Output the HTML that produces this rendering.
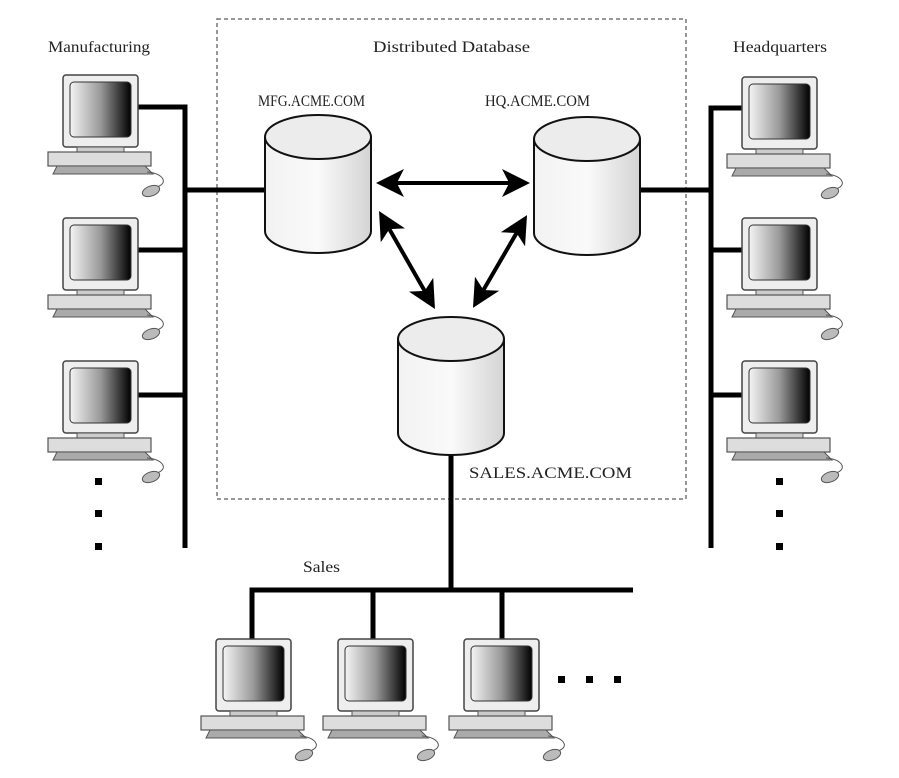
<!DOCTYPE html>
<html><head><style>
html,body{margin:0;padding:0;background:#fff;}
svg{display:block;}
</style></head><body>
<svg width="899" height="778" viewBox="0 0 899 778" xmlns="http://www.w3.org/2000/svg">
<defs>
<linearGradient id="scr" x1="0" x2="1" y1="0" y2="0">
<stop offset="0" stop-color="#f4f4f4"/><stop offset="0.5" stop-color="#999"/><stop offset="1" stop-color="#000"/>
</linearGradient>
<linearGradient id="cyl" x1="0" x2="1" y1="0" y2="0">
<stop offset="0" stop-color="#f2f2f2"/><stop offset="0.5" stop-color="#fafafa"/><stop offset="1" stop-color="#d4d4d4"/>
</linearGradient>
<marker id="ah" markerWidth="7" markerHeight="7" refX="5" refY="3.5" orient="auto-start-reverse" markerUnits="strokeWidth">
<path d="M0,0 L7,3.5 L0,7 L1.8,3.5 z" fill="#000"/>
</marker>
<g id="pc">
<rect x="0" y="0" width="75" height="72" rx="3" fill="#eee" stroke="#444" stroke-width="1.5"/>
<rect x="7" y="7" width="61" height="55" rx="4" fill="url(#scr)" stroke="#333" stroke-width="1"/>
<rect x="14" y="72" width="47" height="5" fill="#ccc" stroke="#555" stroke-width="1"/>
<rect x="-15" y="77" width="103" height="14" fill="#ddd" stroke="#555" stroke-width="1.2"/>
<path d="M-6,91 L82,91 L90,99 L-10,99 z" fill="#aaa" stroke="#555" stroke-width="1"/>
<path d="M84,97 C100,98 106,108 94,112" fill="none" stroke="#555" stroke-width="1"/>
<ellipse cx="88" cy="116" rx="9" ry="5" transform="rotate(-20 88 116)" fill="#bbb" stroke="#555" stroke-width="1"/>
</g>
<g id="db">
<path d="M0,22 L0,116 A53,22 0 0 0 106,116 L106,22" fill="url(#cyl)" stroke="#111" stroke-width="2"/>
<ellipse cx="53" cy="22" rx="53" ry="22" fill="#ececec" stroke="#111" stroke-width="2"/>
</g>
</defs>

<rect x="217" y="19" width="469" height="480" fill="none" stroke="#777" stroke-width="1.5" stroke-dasharray="4,3"/>

<g font-family="Liberation Serif, serif" font-size="16" fill="#222">
<text x="48" y="52" textLength="102" lengthAdjust="spacingAndGlyphs">Manufacturing</text>
<text x="373" y="52" textLength="157" lengthAdjust="spacingAndGlyphs">Distributed Database</text>
<text x="733" y="52" textLength="94" lengthAdjust="spacingAndGlyphs">Headquarters</text>
<text x="258" y="106" textLength="107" lengthAdjust="spacingAndGlyphs">MFG.ACME.COM</text>
<text x="485" y="106" textLength="105" lengthAdjust="spacingAndGlyphs">HQ.ACME.COM</text>
<text x="469" y="478" textLength="163" lengthAdjust="spacingAndGlyphs">SALES.ACME.COM</text>
<text x="303" y="572" textLength="37" lengthAdjust="spacingAndGlyphs">Sales</text>
</g>

<g stroke="#000" stroke-width="5" fill="none">
<path d="M138,107 H185 V548"/>
<path d="M138,250 H185"/>
<path d="M138,395 H185"/>
<path d="M185,190 H266"/>
<path d="M742,108 H711 V548"/>
<path d="M742,250 H711"/>
<path d="M742,395 H711"/>
<path d="M638,190 H711"/>
<path d="M451,452 V590"/>
<path d="M252,640 V590 H633"/>
<path d="M373,590 V640"/>
<path d="M502,590 V640"/>
</g>

<g stroke="#000" stroke-width="4" fill="none">
<line x1="384" y1="183" x2="522" y2="183" marker-start="url(#ah)" marker-end="url(#ah)"/>
<line x1="383" y1="218" x2="431" y2="302" marker-start="url(#ah)" marker-end="url(#ah)"/>
<line x1="523" y1="222" x2="477" y2="301" marker-start="url(#ah)" marker-end="url(#ah)"/>
</g>

<use href="#db" x="265" y="115"/>
<use href="#db" x="534" y="117"/>
<use href="#db" x="398" y="317"/>

<use href="#pc" x="63" y="75"/>
<use href="#pc" x="63" y="218"/>
<use href="#pc" x="63" y="361"/>
<use href="#pc" x="742" y="77"/>
<use href="#pc" x="742" y="218"/>
<use href="#pc" x="742" y="361"/>
<use href="#pc" x="216" y="639"/>
<use href="#pc" x="338" y="639"/>
<use href="#pc" x="464" y="639"/>

<g fill="#000">
<rect x="95" y="478" width="7" height="7"/><rect x="95" y="510" width="7" height="7"/><rect x="95" y="543" width="7" height="7"/>
<rect x="776" y="478" width="7" height="7"/><rect x="776" y="510" width="7" height="7"/><rect x="776" y="543" width="7" height="7"/>
<rect x="558" y="676" width="7" height="7"/><rect x="586" y="676" width="7" height="7"/><rect x="614" y="676" width="7" height="7"/>
</g>
</svg>
</body></html>
